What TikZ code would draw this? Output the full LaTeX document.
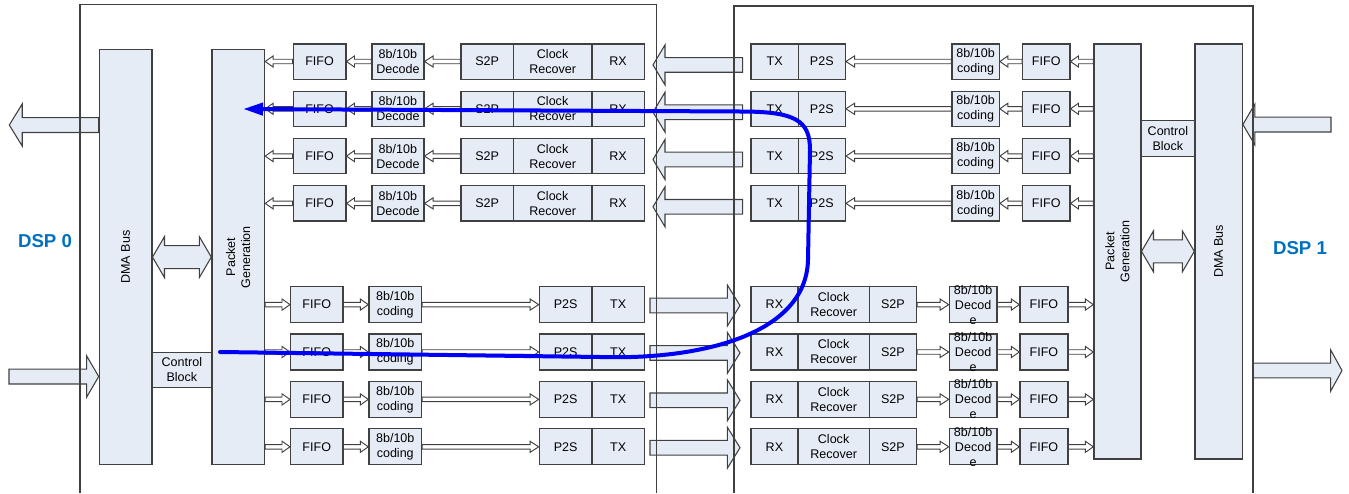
\documentclass[tikz,border=0pt]{standalone}
\usepackage{fontspec}
\setmainfont{Liberation Sans}
\usetikzlibrary{arrows.meta,calc}

\definecolor{boxfill}{RGB}{230,236,246}
\definecolor{boxline}{RGB}{64,64,64}
\definecolor{dspblue}{RGB}{0,112,192}
\definecolor{flowblue}{RGB}{0,0,245}

\pgfdeclarelayer{back}
\pgfsetlayers{back,main}

\tikzset{
  unit/.style={draw=boxline, line width=0.9pt, fill=boxfill, inner sep=0pt,
    anchor=north west, font=\fontsize{9.4}{11.25}\selectfont, align=center},
  txt/.style={inner sep=0pt, font=\fontsize{9.4}{11.25}\selectfont, align=center},
  link/.style={draw=boxline, line width=0.7pt, fill=white},
  bigarrow/.style={draw=boxline, line width=0.8pt, fill=boxfill},
  frame/.style={draw=black!75, line width=0.8pt},
  flowpath/.style={draw=flowblue, line width=3pt, line cap=round,
    -{Triangle[length=15pt,width=9pt]}},
  dsplabel/.style={text=dspblue, font=\fontsize{14}{16}\selectfont\bfseries},
}

% rectangular block given by its corners: name, x1, y1, x2, y2, text
\newcommand{\unitbox}[6]{%
  \node[unit, minimum width={(#4-#2)*0.75pt}, minimum height={(#5-#3)*0.75pt}]
    (#1) at (#2,#3) {#6};}

% horizontal block arrow: style, from, to, shaft half height, head half height, head length
\newcommand{\blockarrow}[6]{%
  \path[#1] let \p1=(#2), \p2=(#3), \n1={ifthenelse(\x2>\x1,1,-1)} in
    (\x1,{\y1+#4}) -- ({\x2-\n1*#6},{\y1+#4}) -- ({\x2-\n1*#6},{\y1+#5})
    -- (\x2,\y1) -- ({\x2-\n1*#6},{\y1-#5}) -- ({\x2-\n1*#6},{\y1-#4})
    -- (\x1,{\y1-#4}) -- cycle;}

% two-headed block arrow, left point first
\newcommand{\twowayarrow}[6]{%
  \path[#1] let \p1=(#2), \p2=(#3) in
    (\x1,\y1) -- ({\x1+#6},{\y1+#5}) -- ({\x1+#6},{\y1+#4}) -- ({\x2-#6},{\y1+#4})
    -- ({\x2-#6},{\y1+#5}) -- (\x2,\y1) -- ({\x2-#6},{\y1-#5}) -- ({\x2-#6},{\y1-#4})
    -- ({\x1+#6},{\y1-#4}) -- ({\x1+#6},{\y1-#5}) -- cycle;}

\begin{document}
\begin{tikzpicture}[x=0.75pt,y=-0.75pt]
\useasboundingbox (0,0) rectangle (1349,493);

% ---------- DSP 0 side ----------
\unitbox{dma0}{98.7}{49}{151.3}{464}{}
\unitbox{pg0}{211.3}{49}{264}{464}{}
\unitbox{cb0}{151.3}{351.7}{211.3}{387}{Control\\Block}
\node[txt, rotate=90] (dma0t) at (dma0) {DMA Bus};
\node[txt, rotate=90] (pg0t) at (pg0) {Packet\\Generation};
\node[dsplabel] (dsp0) at (45,241) {DSP 0};

% ---------- DSP 1 side ----------
\unitbox{pg1}{1093.3}{43.3}{1140.3}{458.3}{}
\unitbox{dma1}{1194.3}{43.3}{1241.7}{458.3}{}
\unitbox{cb1}{1140.3}{120}{1194.3}{156}{Control\\Block}
\node[txt, rotate=90] (dma1t) at (dma1) {DMA Bus};
\node[txt, rotate=90] (pg1t) at (pg1) {Packet\\Generation};
\node[dsplabel] (dsp1) at (1300,248.5) {DSP 1};

% ---------- lanes from DSP 1 to DSP 0 ----------
\foreach \i in {1,...,4}{
  \pgfmathsetmacro\yt{43.3+47.3*(\i-1)}
  \pgfmathsetmacro\yb{\yt+35.2}
  % receiver in DSP 0
  \unitbox{lrF\i}{292.7}{\yt}{345.3}{\yb}{FIFO}
  \unitbox{lrD\i}{371.3}{\yt}{423.3}{\yb}{8b/10b\\Decode}
  \unitbox{lrS\i}{460.3}{\yt}{512.7}{\yb}{S2P}
  \unitbox{lrC\i}{512.7}{\yt}{591.3}{\yb}{Clock\\Recover}
  \unitbox{lrX\i}{591.3}{\yt}{643.7}{\yb}{RX}
  % transmitter in DSP 1
  \unitbox{rtT\i}{750.3}{\yt}{797.7}{\yb}{TX}
  \unitbox{rtP\i}{797.7}{\yt}{844.7}{\yb}{P2S}
  \unitbox{rtE\i}{951.3}{\yt}{998.7}{\yb}{8b/10b\\coding}
  \unitbox{rtF\i}{1022}{\yt}{1069.3}{\yb}{FIFO}
}

% ---------- lanes from DSP 0 to DSP 1 ----------
\foreach \i in {1,...,4}{
  \pgfmathsetmacro\yt{286+47.4*(\i-1)}
  \pgfmathsetmacro\yb{\yt+36}
  % transmitter in DSP 0
  \unitbox{ltF\i}{290}{\yt}{342.3}{\yb}{FIFO}
  \unitbox{ltE\i}{368.3}{\yt}{421}{\yb}{8b/10b\\coding}
  \unitbox{ltP\i}{538.7}{\yt}{591.3}{\yb}{P2S}
  \unitbox{ltT\i}{591.3}{\yt}{643.7}{\yb}{TX}
  % receiver in DSP 1
  \unitbox{rrX\i}{750.3}{\yt}{797.3}{\yb}{RX}
  \unitbox{rrC\i}{797.3}{\yt}{868.7}{\yb}{Clock\\Recover}
  \unitbox{rrS\i}{868.7}{\yt}{916}{\yb}{S2P}
  \unitbox{rrD\i}{948.7}{\yt}{996.3}{\yb}{}
  \node[txt] (rrDt\i) at (rrD\i) {8b/10b\\Decod\\e};
  \unitbox{rrF\i}{1019.3}{\yt}{1067.3}{\yb}{FIFO}
}

% ---------- small links inside each DSP ----------
\foreach \i in {1,...,4}{
  \blockarrow{link}{lrS\i.west}{lrD\i.east}{1.7pt}{4.2pt}{6.5pt}
  \blockarrow{link}{lrD\i.west}{lrF\i.east}{1.7pt}{4.2pt}{6pt}
  \blockarrow{link}{lrF\i.west}{pg0.east |- lrF\i.west}{1.7pt}{4.2pt}{6pt}
  \blockarrow{link}{pg0.east |- ltF\i.west}{ltF\i.west}{1.7pt}{4.2pt}{6pt}
  \blockarrow{link}{ltF\i.east}{ltE\i.west}{1.7pt}{4.2pt}{6pt}
  \blockarrow{link}{ltE\i.east}{ltP\i.west}{1.7pt}{4.2pt}{6.5pt}
  \blockarrow{link}{rtE\i.west}{rtP\i.east}{1.7pt}{4.2pt}{6.5pt}
  \blockarrow{link}{rtF\i.west}{rtE\i.east}{1.7pt}{4.2pt}{6pt}
  \blockarrow{link}{pg1.west |- rtF\i.east}{rtF\i.east}{1.7pt}{4.2pt}{6pt}
  \blockarrow{link}{rrS\i.east}{rrD\i.west}{1.7pt}{4.2pt}{6.5pt}
  \blockarrow{link}{rrD\i.east}{rrF\i.west}{1.7pt}{4.2pt}{6pt}
  \blockarrow{link}{rrF\i.east}{pg1.west |- rrF\i.east}{1.7pt}{4.2pt}{6pt}
}

\begin{pgfonlayer}{back}
  % serial links between the two DSPs
  \foreach \i in {1,...,4}{
    \pgfmathsetmacro\yc{43.3+47.3*(\i-1)+21.6}
    \coordinate (upA\i) at (742.7,\yc);
    \coordinate (upB\i) at (653,\yc);
    \blockarrow{bigarrow}{upA\i}{upB\i}{5.5pt}{15pt}{9pt}
    \pgfmathsetmacro\yd{286+47.4*(\i-1)+19.5}
    \coordinate (dnA\i) at (650,\yd);
    \coordinate (dnB\i) at (740,\yd);
    \blockarrow{bigarrow}{dnA\i}{dnB\i}{5.5pt}{15.4pt}{9.5pt}
  }
  % DMA bus data in and out
  \coordinate (out0) at (9.3,125);
  \coordinate (in0) at (9,376.5);
  \coordinate (in1) at (1331,124.5);
  \coordinate (out1s) at (1253,370.5);
  \coordinate (out1) at (1342,370.5);
  \blockarrow{bigarrow}{dma0.west |- out0}{out0}{5.6pt}{15.8pt}{9.7pt}
  \blockarrow{bigarrow}{in0}{dma0.west |- in0}{5.6pt}{15.4pt}{9pt}
  \blockarrow{bigarrow}{in1}{dma1.east |- in1}{5.6pt}{15.4pt}{9pt}
  \blockarrow{bigarrow}{out1s}{out1}{5.5pt}{15.6pt}{8.6pt}
  % chip outlines
  \draw[frame] (80,493) -- (80,4.3) -- (656.7,4.3) -- (656.7,493);
  \draw[frame] (734,493) -- (734,6) -- (1253,6) -- (1253,493);
\end{pgfonlayer}

% bus to packet generation
\twowayarrow{bigarrow}{dma0.east}{pg0.west}{8.6pt}{15.4pt}{9pt}
\twowayarrow{bigarrow}{pg1.east}{dma1.west}{8.6pt}{15.4pt}{9pt}

% data path from DSP 0 through DSP 1 and back
\coordinate (flowS) at (220,352);
\coordinate (flowE) at (243,109);
\draw[flowpath] (flowS) -- (600,357)
  .. controls (700,360) and (806,335) .. (808,260)
  -- (810,150)
  .. controls (810,120) and (795,111.5) .. (740,111.5)
  -- (flowE);
\end{tikzpicture}
\end{document}
